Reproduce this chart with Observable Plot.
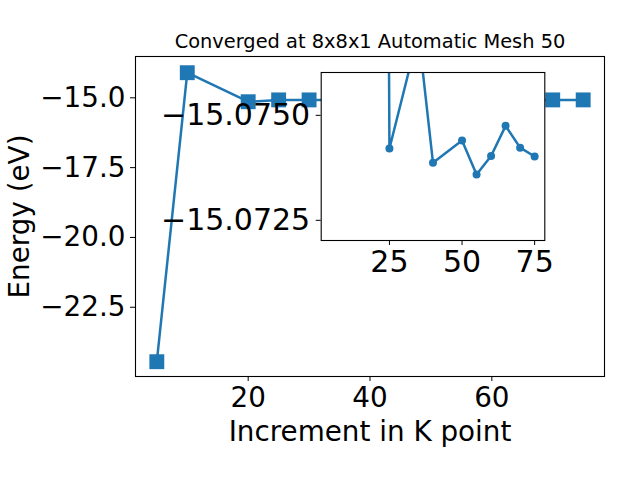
<!DOCTYPE html>
<html>
<head>
<meta charset="utf-8">
<script src="https://cdn.jsdelivr.net/npm/d3@7"></script>
<script src="https://cdn.jsdelivr.net/npm/@observablehq/plot@0.6"></script>
<style>
  body { margin: 0; background: white; }
  #wrap { position: relative; width: 640px; height: 480px; font-family: "DejaVu Sans", sans-serif; }
  #wrap svg { position: absolute; }
</style>
</head>
<body>
<div id="wrap"></div>
<script>
const titleText = "Converged at 8x8x1 Automatic Mesh 50";
const xLabel = "Increment in K point";
const yLabel = "Energy (eV)";

const mainK = [5, 10, 20, 25, 30, 35, 40, 50, 55, 60, 65, 70, 75];
const mainEnergy = [-24.45, -14.10, -15.14, -15.0742, -15.0745, -15.0770, -15.0739, -15.0744, -15.0736, -15.0740, -15.0748, -15.0742, -15.0740];

const insetK = [20, 25, 35, 40, 50, 55, 60, 65, 70, 75];
const insetEnergy = [-15.14, -15.07421, -15.07696, -15.07387, -15.07440, -15.07359, -15.07403, -15.07475, -15.07423, -15.07402];

const mainXTicks = [20, 40, 60];
const mainYTicks = [-22.5, -20.0, -17.5, -15.0];
const insetXTicks = [25, 50, 75];
const insetYTicks = [-15.0750, -15.0725];

const blue = "#1f77b4";
const fs = 27.8;
const fsInset = 30;

const mainData = mainK.map((k, i) => ({k, e: mainEnergy[i]}));
const insetData = insetK.map((k, i) => ({k, e: insetEnergy[i]}));

const main = Plot.plot({
  width: 640, height: 480,
  marginLeft: 135, marginRight: 36, marginTop: 56, marginBottom: 104,
  x: {domain: [1.5, 78.5]},
  y: {domain: [-24.98, -13.52]},
  style: {fontFamily: "DejaVu Sans", background: "transparent", overflow: "visible"},
  marks: [
    Plot.axisX({ticks: mainXTicks, tickFormat: d3.format("d"), tickSize: 5, tickPadding: 6, fontSize: fs, label: null, stroke: "black"}),
    Plot.axisY({ticks: mainYTicks, tickFormat: d3.format(".1f"), tickSize: 5, tickPadding: 5, fontSize: fs, label: null, stroke: "black"}),
    Plot.line(mainData, {x: "k", y: "e", stroke: blue, strokeWidth: 2.5}),
    Plot.dot(mainData, {x: "k", y: "e", symbol: "square", r: 8.4, fill: blue, stroke: null}),
    Plot.frame({stroke: "black", strokeWidth: 1.1}),
    Plot.text([titleText], {frameAnchor: "top", text: d => d, dy: -9, textAnchor: "middle", lineAnchor: "bottom", fontSize: 19.4, fill: "black"}),
    Plot.text([xLabel], {frameAnchor: "bottom", text: d => d, dy: 64, textAnchor: "middle", lineAnchor: "bottom", fontSize: fs, fill: "black"}),
    Plot.text([yLabel], {frameAnchor: "left", text: d => d, dx: -106.7, rotate: -90, textAnchor: "middle", lineAnchor: "bottom", fontSize: fs, fill: "black"})
  ]
});
main.style.left = "0px";
main.style.top = "0px";

const inset = Plot.plot({
  width: 460, height: 230,
  marginLeft: 180.7, marginRight: 55.7, marginTop: 12, marginBottom: 50,
  x: {domain: [1.5, 78.5]},
  y: {domain: [-15.07202, -15.07602]},
  style: {fontFamily: "DejaVu Sans", background: "transparent", overflow: "visible"},
  marks: [
    Plot.frame({fill: "white", stroke: null}),
    Plot.axisX({ticks: insetXTicks, tickFormat: d3.format("d"), tickSize: 5, tickPadding: 5, fontSize: fsInset, label: null, stroke: "black"}),
    Plot.axisY({ticks: insetYTicks, tickFormat: d3.format(".4f"), tickSize: 5, tickPadding: 6, fontSize: fsInset, label: null, stroke: "black"}),
    Plot.line(insetData, {x: "k", y: "e", stroke: blue, strokeWidth: 2.5, clip: true}),
    Plot.dot(insetData, {x: "k", y: "e", r: 4, fill: blue, stroke: null, clip: true}),
    Plot.frame({stroke: "black", strokeWidth: 1.1})
  ]
});
inset.style.left = "140px";
inset.style.top = "60px";

const wrap = document.getElementById("wrap");
wrap.appendChild(main);
wrap.appendChild(inset);
</script>
</body>
</html>
